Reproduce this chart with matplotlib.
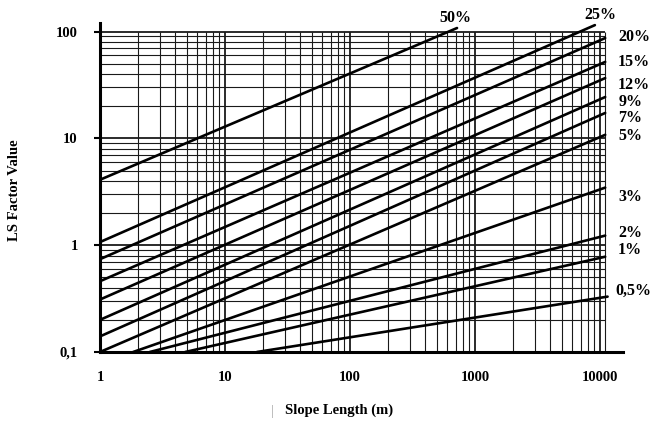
import numpy as np
import matplotlib
matplotlib.use("Agg")
import matplotlib.pyplot as plt

# slope classes and the two ends of each straight line
slopes = ['50%', '25%', '20%', '15%', '12%', '9%', '7%', '5%', '3%', '2%', '1%', '0,5%']
len_start = [1, 1, 1, 1, 1, 1, 1, 1, 1.84, 2.5, 4.8, 18]
ls_start = [4.1, 1.07, 0.74, 0.46, 0.31, 0.20, 0.14, 0.10, 0.10, 0.10, 0.10, 0.10]
len_end = [718, 9100, 11000, 11000, 11000, 11000, 11000, 11000, 11000, 11000, 11000, 11500]
ls_end = [108, 115, 87, 52, 36.7, 24.4, 17.3, 10.8, 3.46, 1.23, 0.78, 0.33]

x_ticks = [1, 10, 100, 1000, 10000]
x_ticklabels = ['1', '10', '100', '1000', '10000']
y_ticks = [0.1, 1, 10, 100]
y_ticklabels = ['0,1', '1', '10', '100']

# label offsets in pixels from the line end (dx, dy)
lab_off = [(-2, 10), (5, 10), (13, 1), (13, 0), (13, -7), (13, -5), (13, -5),
           (13, -1), (13, -9), (13, 3), (13, 7), (8, 6)]

serif = ['Liberation Serif', 'DejaVu Serif']

fig = plt.figure(figsize=(6.55, 4.21), dpi=100)
W, H = 655, 421
ax = fig.add_axes([100 / W, (H - 352) / H, 523 / W, (352 - 23) / H])
ax.set_xscale('log')
ax.set_yscale('log')
ax.set_xlim(1, 10 ** (523 / 125))
ax.set_ylim(0.1, 10 ** (-1 + 329 / 106.8))

# hand drawn style grid: every 1..9 of each decade
grid_x_end = 11000
gcol = '#1a1a1a'
for dec in [0.1, 1, 10]:
    for k in range(1, 10):
        v = dec * k
        ax.hlines(v, 1, grid_x_end, color=gcol, lw=1.3 if k == 1 else 0.8, zorder=1)
ax.hlines(100, 1, grid_x_end, color=gcol, lw=1.3, zorder=1)
for dec in [1, 10, 100, 1000]:
    for k in range(1, 10):
        v = dec * k
        ax.vlines(v, 0.1, 100, color=gcol, lw=1.3 if k == 1 else 0.8, zorder=1)
ax.vlines(10000, 0.1, 100, color=gcol, lw=1.3, zorder=1)
ax.vlines(11000, 0.1, 100, color=gcol, lw=0.8, zorder=1)

for i, s in enumerate(slopes):
    ax.plot([len_start[i], len_end[i]], [ls_start[i], ls_end[i]],
            color='black', lw=1.9, solid_capstyle='round', zorder=3)
    dx, dy = lab_off[i]
    ha = 'center' if i < 2 else 'left'
    ax.annotate(s, xy=(len_end[i], ls_end[i]), xytext=(dx, dy),
                textcoords='offset pixels', ha=ha, va='center',
                fontsize=11.5, fontweight='bold', family=serif,
                annotation_clip=False)

for side in ['top', 'right']:
    ax.spines[side].set_visible(False)
ax.spines['left'].set_linewidth(2.2)
ax.spines['bottom'].set_linewidth(2.2)

ax.set_xticks(x_ticks)
ax.set_xticklabels(x_ticklabels)
ax.set_yticks(y_ticks)
ax.set_yticklabels(y_ticklabels)
ax.minorticks_off()
ax.tick_params(axis='x', length=0, pad=14)
ax.tick_params(axis='y', length=4, width=1.5, pad=12)
for lab in ax.get_xticklabels() + ax.get_yticklabels():
    lab.set_fontweight('bold')
    lab.set_fontsize(10.5)
    lab.set_family(serif)

fig.text(15 / W, 1 - 190 / H, 'LS Factor Value', rotation=90, ha='center', va='center',
         fontsize=10.5, fontweight='bold', family=serif)
fig.text(272 / W, 1 - 411 / H, '|', ha='center', va='center', fontsize=10,
         color='#aaaaaa', family=serif)
fig.text(339 / W, 1 - 410 / H, 'Slope Length (m)', ha='center', va='center',
         fontsize=10.5, fontweight='bold', family=serif)

fig.savefig('out.png', dpi=100, facecolor='white')
